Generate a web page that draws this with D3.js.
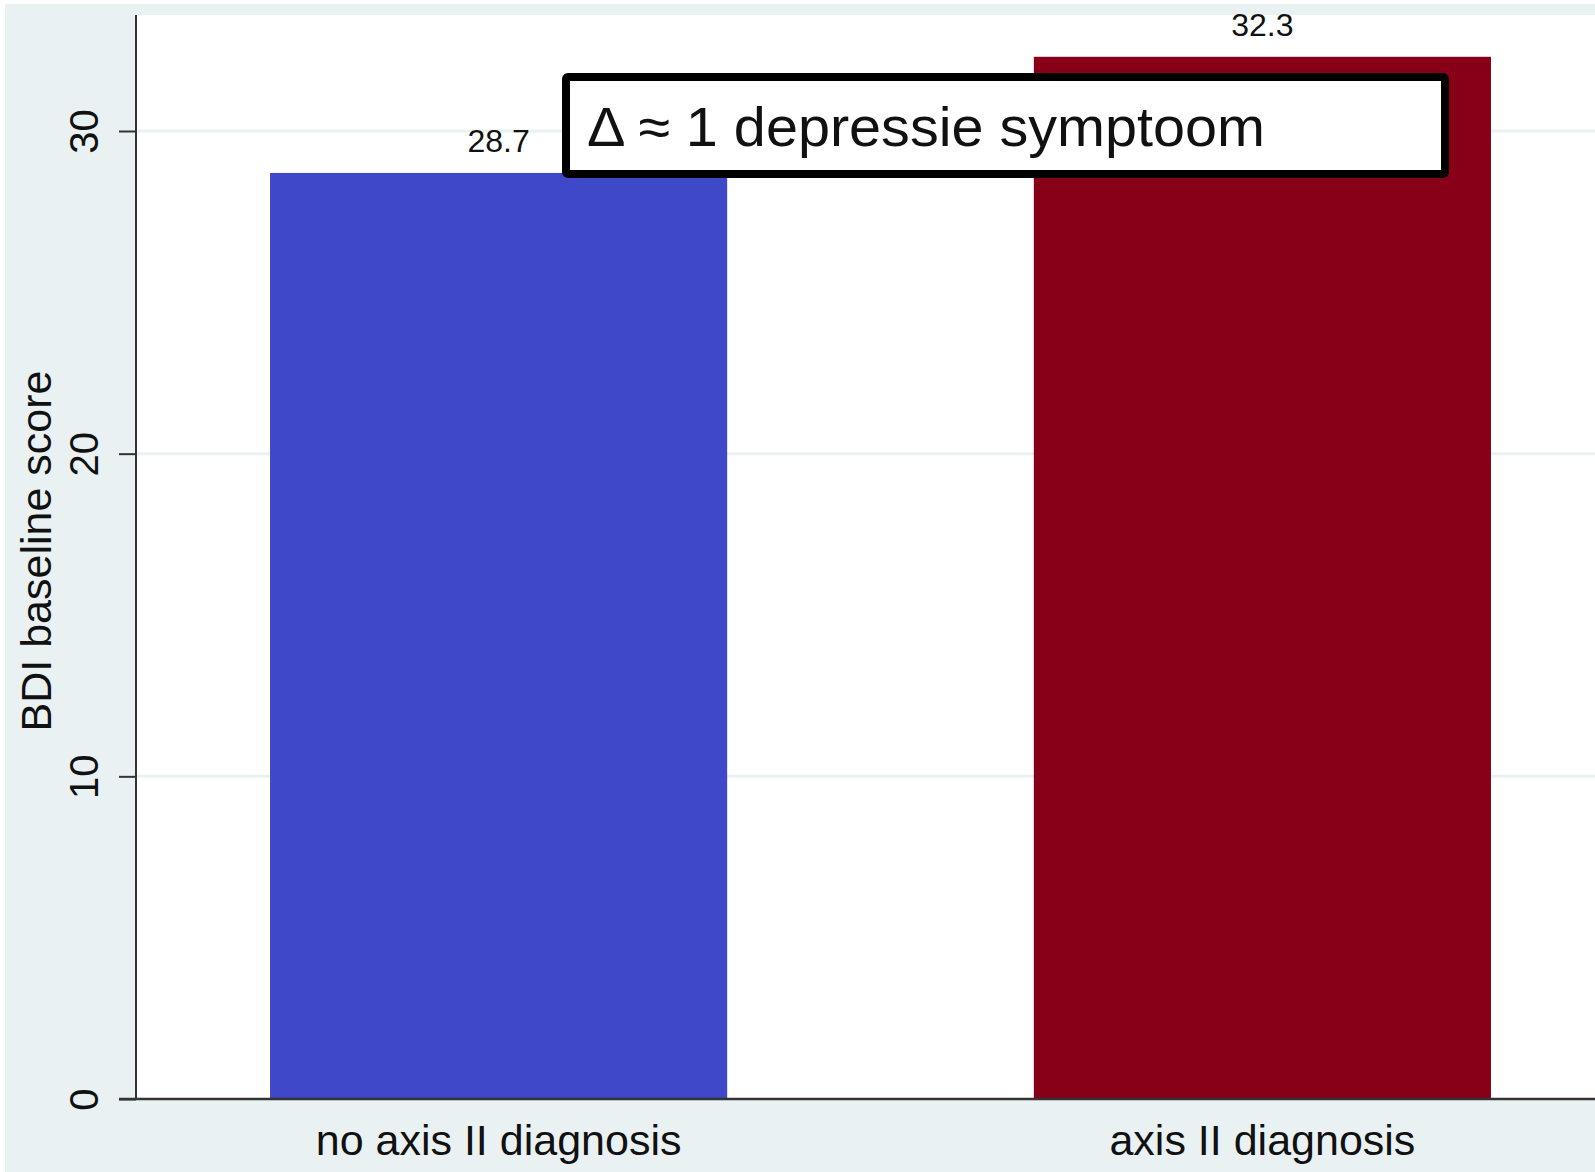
<!DOCTYPE html>
<html>
<head>
<meta charset="utf-8">
<script src="https://cdn.jsdelivr.net/npm/d3@7"></script>
<style>
  body { margin: 0; background: #fff; }
  text { font-family: "Liberation Sans", Arial, sans-serif; fill: #111; }
</style>
</head>
<body>
<div id="chart"></div>
<script>
var categories = ["no axis II diagnosis", "axis II diagnosis"];
var scores = [28.7, 32.3];
var barColors = ["#4048CA", "#880018"];
var yTicks = [0, 10, 20, 30];
var yTitle = "BDI baseline score";
var note = "\u0394 \u2248 1 depressie symptoom";

(function() {

    var W = 1595, H = 1172;
    var plotLeft = 136, plotTop = 15, plotBottom = 1099;

    var svg = d3.select("#chart").append("svg")
        .attr("width", W)
        .attr("height", H);

    // outer stata-like background
    svg.append("rect")
        .attr("x", 5).attr("y", 4)
        .attr("width", W - 5).attr("height", H - 4)
        .attr("fill", "#EAF1F3");

    // plot region
    svg.append("rect")
        .attr("x", plotLeft).attr("y", plotTop)
        .attr("width", W - plotLeft).attr("height", plotBottom - plotTop)
        .attr("fill", "#fff");

    var y = d3.scaleLinear()
        .domain([0, 30])
        .range([plotBottom, 131]);

    var x = d3.scaleBand()
        .domain(categories)
        .range([plotLeft, 1625])
        .paddingInner(0.4015)
        .paddingOuter(0.1755);

    // gridlines
    svg.selectAll("line.grid")
        .data(yTicks.filter(function(d) { return d > 0; }))
        .enter()
        .append("line")
        .attr("class", "grid")
        .attr("x1", plotLeft).attr("x2", W)
        .attr("y1", function(d) { return y(d); })
        .attr("y2", function(d) { return y(d); })
        .attr("stroke", "#EAF1F3")
        .attr("stroke-width", 3);

    // bars
    svg.selectAll("rect.bar")
        .data(scores)
        .enter()
        .append("rect")
        .attr("class", "bar")
        .attr("x", function(d, i) { return x(categories[i]); })
        .attr("y", function(d) { return y(d); })
        .attr("width", x.bandwidth())
        .attr("height", function(d) { return y(0) - y(d); })
        .attr("fill", function(d, i) { return barColors[i]; });

    // value labels
    svg.selectAll("text.val")
        .data(scores)
        .enter()
        .append("text")
        .attr("class", "val")
        .attr("x", function(d, i) { return x(categories[i]) + x.bandwidth() / 2; })
        .attr("y", function(d) { return y(d) - 21; })
        .attr("text-anchor", "middle")
        .attr("font-size", 32)
        .text(function(d) { return d.toFixed(1); });

    // y axis
    var yAxis = svg.append("g")
        .attr("transform", "translate(" + plotLeft + ",0)")
        .call(d3.axisLeft(y).tickValues(yTicks).tickSize(17).tickSizeOuter(0));
    yAxis.select(".domain").remove();
    yAxis.append("line")
        .attr("x1", 0).attr("x2", 0)
        .attr("y1", plotTop).attr("y2", plotBottom)
        .attr("stroke", "#333").attr("stroke-width", 2);
    yAxis.selectAll(".tick line").attr("stroke", "#333").attr("stroke-width", 2);
    yAxis.selectAll(".tick text")
        .attr("transform", "rotate(-90)")
        .attr("x", 0).attr("y", -38).attr("dy", 0)
        .attr("text-anchor", "middle")
        .attr("font-size", 40)
        .attr("font-family", "Liberation Sans, Arial, sans-serif")
        .attr("fill", "#111");

    // x axis line
    svg.append("line")
        .attr("x1", 119).attr("x2", W)
        .attr("y1", plotBottom).attr("y2", plotBottom)
        .attr("stroke", "#333").attr("stroke-width", 2.5);

    // category labels
    svg.selectAll("text.cat")
        .data(categories)
        .enter()
        .append("text")
        .attr("class", "cat")
        .attr("x", function(d) { return x(d) + x.bandwidth() / 2; })
        .attr("y", 1155)
        .attr("text-anchor", "middle")
        .attr("font-size", 43)
        .text(function(d) { return d; });

    // y title
    svg.append("text")
        .attr("transform", "translate(51,551) rotate(-90)")
        .attr("text-anchor", "middle")
        .attr("font-size", 43)
        .text(yTitle);

    // annotation box
    svg.append("rect")
        .attr("x", 566).attr("y", 77)
        .attr("width", 879).attr("height", 97)
        .attr("rx", 2)
        .attr("fill", "#fff")
        .attr("stroke", "#000")
        .attr("stroke-width", 8);

    svg.append("text")
        .attr("x", 587).attr("y", 146)
        .attr("font-family", "Open Sans, sans-serif")
        .attr("font-size", 55)
        .attr("fill", "#000")
        .attr("textLength", 678)
        .attr("lengthAdjust", "spacingAndGlyphs")
        .text(note);

})();
</script>
</body>
</html>
